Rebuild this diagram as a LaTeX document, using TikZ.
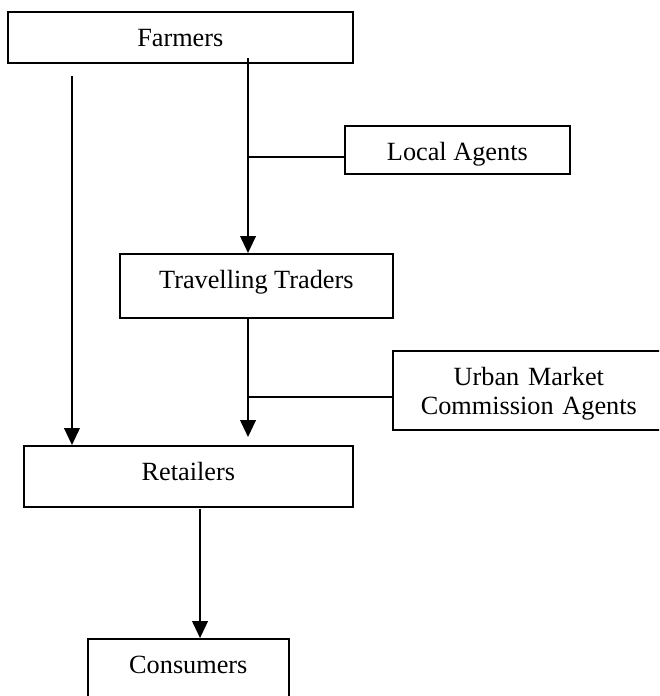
\documentclass[tikz,border=0pt]{standalone}
\usepackage{fontspec}
\setmainfont{Liberation Serif}
\usetikzlibrary{arrows.meta}

\begin{document}
\begin{tikzpicture}[
    box/.style={draw, line width=0.75pt, inner sep=0pt, anchor=north west,
        text height=15.75pt, font=\fontsize{12}{13.5}\selectfont},
    flow/.style={line width=0.75pt, -{Triangle[length=0.27cm,width=0.25cm]}},
    link/.style={line width=0.75pt}]
    \def\pageW{10.576}
    \def\pageH{11.169}

    % Page frame, the last box runs off the bottom edge
    \useasboundingbox (0,0) rectangle (\pageW,-\pageH);
    \clip (0,0) rectangle (\pageW,-\pageH);

    % Boxes, placed by their top left corners
    \node[box, minimum width=5.537cm, text depth=7.54pt] (farmers) at (0.112,-0.177) {Farmers};
    \node[box, minimum width=3.611cm, text depth=6.17pt] (agents) at (5.521,-2.006) {Local Agents};
    \node[box, minimum width=4.381cm, text depth=13.47pt] (traders) at (1.910,-4.060) {Travelling Traders};
    \node[box, text width=4.365cm, align=center, text depth=20.32pt] (commission) at (6.291,-5.617) {Urban Market\\Commission Agents};
    \node[box, minimum width=5.280cm, text depth=12.10pt] (retailers) at (0.369,-7.141) {Retailers};
    \node[box, minimum width=3.226cm, text depth=21.70pt] (consumers) at (1.396,-10.239) {Consumers};

    % Farmers straight to retailers
    \coordinate (f1) at (1.155,-1.220);
    \draw[flow] (f1) -- (f1 |- retailers.north);

    % Farmers to travelling traders, local agents joining
    \coordinate (f2) at (3.980,-0.931);
    \draw[flow] (f2) -- (f2 |- traders.north);
    \coordinate (a1) at (3.980,-2.520);
    \draw[link] (a1) -- (a1 -| agents.west);

    % Travelling traders to retailers, commission agents joining
    \coordinate (t1) at (3.980,-7.013);
    \draw[flow] (t1 |- traders.south) -- (t1);
    \coordinate (c1) at (3.980,-6.371);
    \draw[link] (c1) -- (c1 -| commission.west);

    % Retailers to consumers
    \coordinate (r1) at (3.210,-8.168);
    \draw[flow] (r1) -- (r1 |- consumers.north);

\end{tikzpicture}
\end{document}
